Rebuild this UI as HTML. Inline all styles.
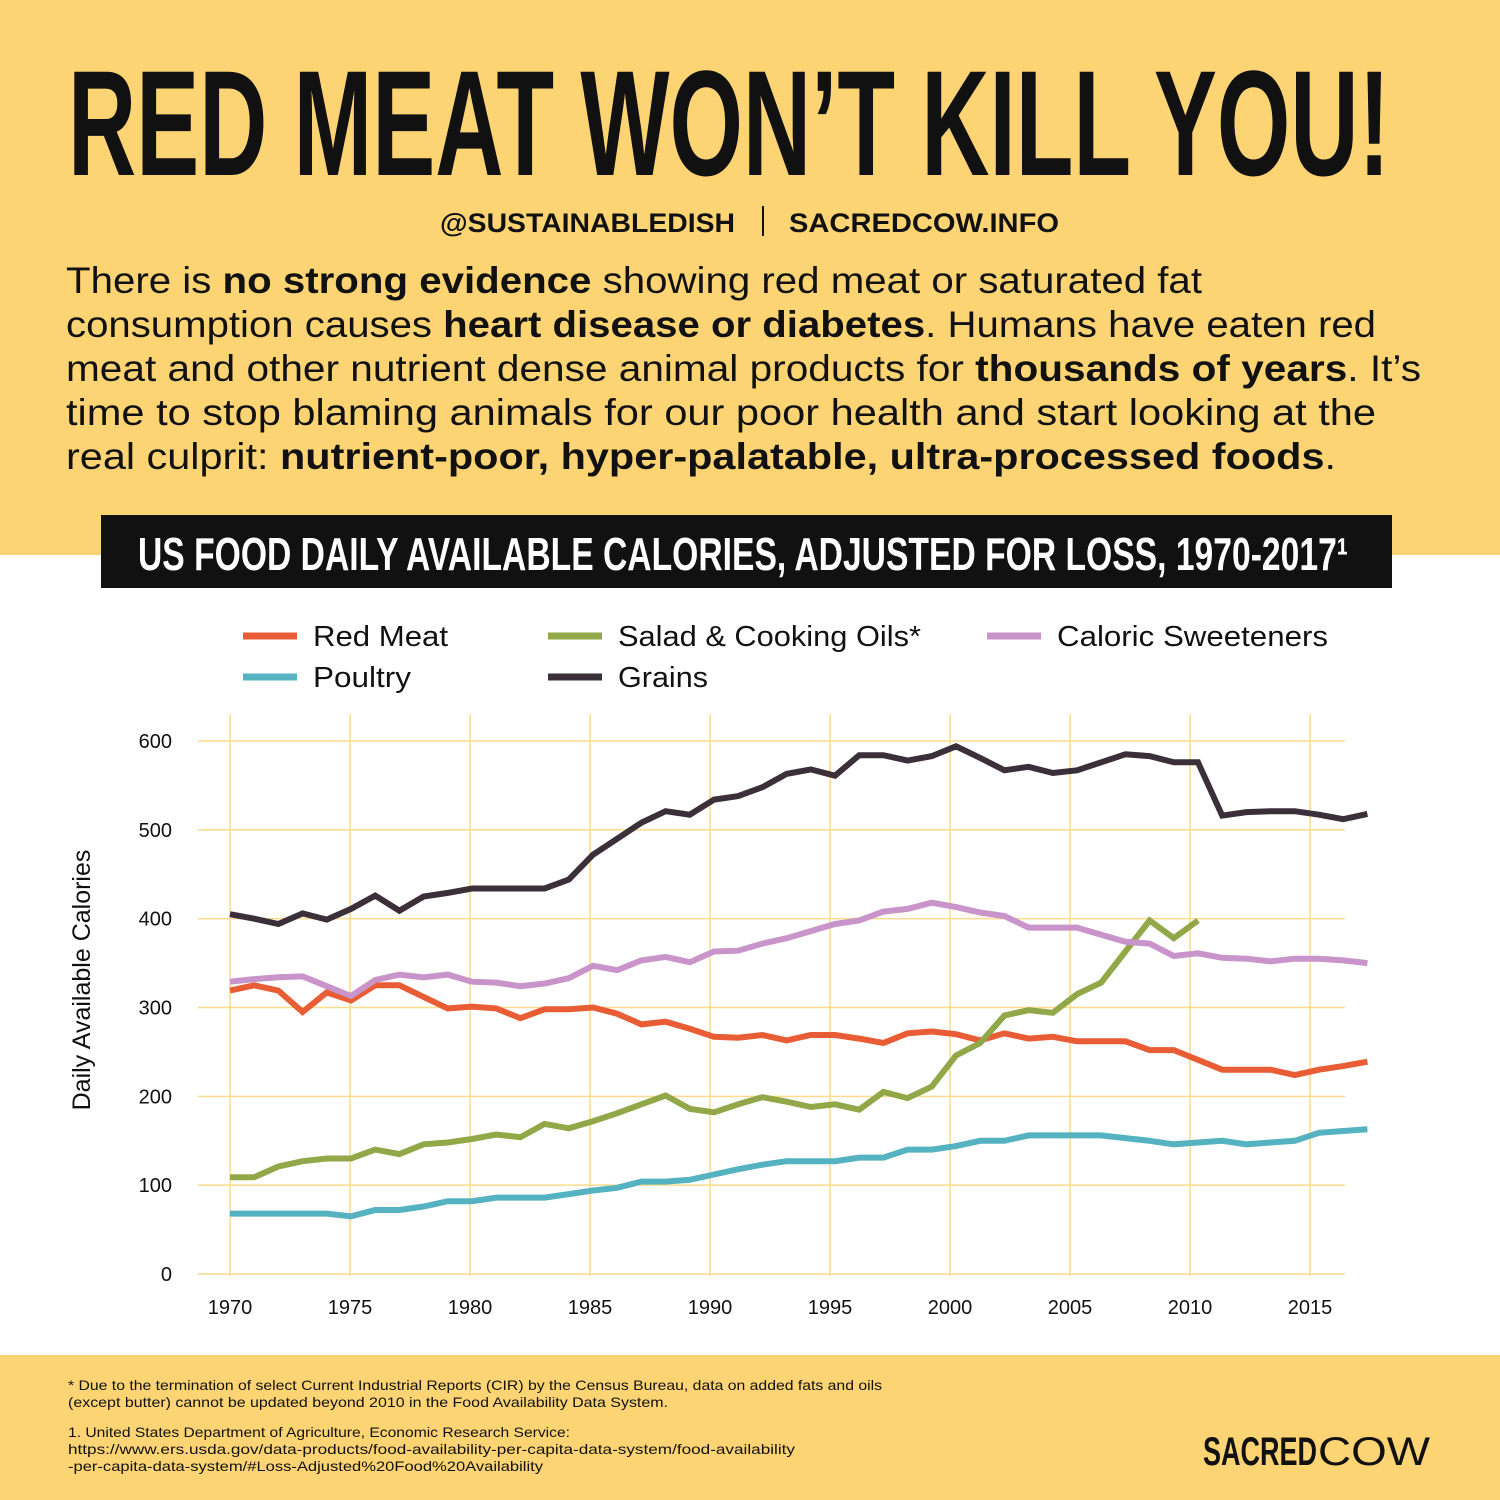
<!DOCTYPE html>
<html><head><meta charset="utf-8"><style>
html,body{margin:0;padding:0;background:#fdd474;}
svg{display:block;}
.t{font-family:"Liberation Sans",sans-serif;}
</style></head><body>
<svg id="chart" width="1500" height="1500" viewBox="0 0 1500 1500" xmlns="http://www.w3.org/2000/svg" class="t">
<rect x="0" y="0" width="1500" height="1500" fill="#fdd474"/>
<rect x="0" y="555" width="1500" height="800" fill="#ffffff"/>
<text x="68" y="175" font-family="Liberation Sans Narrow, Liberation Sans, sans-serif" font-weight="bold" font-size="150" textLength="1322" lengthAdjust="spacingAndGlyphs" fill="#111">RED MEAT WON’T KILL YOU!</text>
<text x="440" y="232" font-weight="bold" font-size="27" textLength="295" lengthAdjust="spacingAndGlyphs" fill="#111">@SUSTAINABLEDISH</text>
<rect x="762" y="206" width="2" height="30" fill="#111"/>
<text x="789" y="232" font-weight="bold" font-size="27" textLength="270" lengthAdjust="spacingAndGlyphs" fill="#111">SACREDCOW.INFO</text>
<g font-size="37" fill="#111">
<text x="66" y="293" textLength="1136" lengthAdjust="spacingAndGlyphs">There is <tspan font-weight="bold">no strong evidence</tspan> showing red meat or saturated fat</text>
<text x="66" y="337" textLength="1310" lengthAdjust="spacingAndGlyphs">consumption causes <tspan font-weight="bold">heart disease or diabetes</tspan>. Humans have eaten red</text>
<text x="66" y="381" textLength="1355" lengthAdjust="spacingAndGlyphs">meat and other nutrient dense animal products for <tspan font-weight="bold">thousands of years</tspan>. It’s</text>
<text x="66" y="425" textLength="1310" lengthAdjust="spacingAndGlyphs">time to stop blaming animals for our poor health and start looking at the</text>
<text x="66" y="469" textLength="1270" lengthAdjust="spacingAndGlyphs">real culprit: <tspan font-weight="bold">nutrient-poor, hyper-palatable, ultra-processed foods</tspan>.</text>
</g>
<rect x="101" y="515" width="1291" height="73" fill="#111"/>
<text x="138" y="570" font-family="Liberation Sans Narrow, Liberation Sans, sans-serif" font-weight="bold" font-size="46" textLength="1210" lengthAdjust="spacingAndGlyphs" fill="#fff">US FOOD DAILY AVAILABLE CALORIES, ADJUSTED FOR LOSS, 1970-2017¹</text>
<g id="legend" font-size="29" fill="#111"></g>
<g id="grid"></g>
<g id="axes" font-size="20" fill="#111"></g>
<g id="series"></g>
<text transform="translate(90,980) rotate(-90)" text-anchor="middle" font-size="25" fill="#111">Daily Available Calories</text>
<g font-size="14" fill="#111">
<text x="68" y="1390" textLength="814" lengthAdjust="spacingAndGlyphs">* Due to the termination of select Current Industrial Reports (CIR) by the Census Bureau, data on added fats and oils</text>
<text x="68" y="1407" textLength="600" lengthAdjust="spacingAndGlyphs">(except butter) cannot be updated beyond 2010 in the Food Availability Data System.</text>
<text x="68" y="1437" textLength="502" lengthAdjust="spacingAndGlyphs">1. United States Department of Agriculture, Economic Research Service:</text>
<text x="68" y="1454" textLength="727" lengthAdjust="spacingAndGlyphs">https://www.ers.usda.gov/data-products/food-availability-per-capita-data-system/food-availability</text>
<text x="68" y="1471" textLength="475" lengthAdjust="spacingAndGlyphs">-per-capita-data-system/#Loss-Adjusted%20Food%20Availability</text>
</g>
<text x="1203" y="1465" font-family="Liberation Sans Narrow, Liberation Sans, sans-serif" font-weight="bold" font-size="40" textLength="114" lengthAdjust="spacingAndGlyphs" fill="#111">SACRED</text>
<text x="1318" y="1465" font-size="40" textLength="112" lengthAdjust="spacingAndGlyphs" fill="#111">COW</text>
</svg>
<script>
const years = [];
for (let y = 1970; y <= 2017; y++) years.push(y);
const redMeat = [319,325,319,295,317,308,325,325,312,299,301,299,288,298,298,300,293,281,284,276,267,266,269,263,269,269,265,260,271,273,270,263,271,265,267,262,262,262,252,252,241,230,230,230,224,230,234,239];
const poultry = [68,68,68,68,68,65,72,72,76,82,82,86,86,86,90,94,97,104,104,106,112,118,123,127,127,127,131,131,140,140,144,150,150,156,156,156,156,153,150,146,148,150,146,148,150,159,161,163];
const oils = [109,109,121,127,130,130,140,135,146,148,152,157,154,169,164,172,181,191,201,186,182,191,199,194,188,191,185,205,198,211,246,260,291,297,294,315,328,363,398,378,398];
const grains = [405,400,394,406,399,411,426,409,425,429,434,434,434,434,444,472,490,508,521,517,534,538,548,563,568,561,584,584,578,583,594,581,567,571,564,567,576,585,583,576,576,516,520,521,521,517,512,518];
const sweeteners = [329,332,334,335,324,313,331,337,334,337,329,328,324,327,333,347,342,353,357,351,363,364,372,378,386,394,398,408,411,418,413,407,403,390,390,390,382,374,372,358,361,356,355,352,355,355,353,350];
const yTicks = [0,100,200,300,400,500,600];
const xTicks = [1970,1975,1980,1985,1990,1995,2000,2005,2010,2015];
const seriesNames = ["Red Meat","Poultry","Salad & Cooking Oils*","Grains","Caloric Sweeteners"];
const seriesKeys = ["red-meat","poultry","oils","grains","sweeteners"];
const seriesData = [redMeat, poultry, oils, grains, sweeteners];
const colors = ["#e85d35","#55b2c0","#92a748","#3b2f3a","#c894c9"];
const labelWidths = [135,98,303,90,271];

const NS = "http://www.w3.org/2000/svg";
function yPx(v){ return 1274 - v * 0.8883; }
function xTickPx(yr){ return 230 + (yr - 1970) * 24; }
function xDataPx(yr){ return 230 + (yr - 1970) * 24.2; }
function mk(tag, attrs, parent){ const e=document.createElementNS(NS,tag); for(const k in attrs) e.setAttribute(k,attrs[k]); parent.appendChild(e); return e; }

const grid = document.getElementById('grid');
yTicks.forEach(v=>{
  const l = mk('line',{x1:198,x2:1345,y1:yPx(v),y2:yPx(v),stroke:'#fcdc8c','stroke-width':1.5},grid);
  
  
});
xTicks.forEach(t=>{
  const l = mk('line',{x1:xTickPx(t),x2:xTickPx(t),y1:714,y2:1276,stroke:'#fcdc8c','stroke-width':1.5},grid);
  
  
});
const axes = document.getElementById('axes');
yTicks.forEach(v=>{
  const t = mk('text',{x:172,y:yPx(v)+7,'text-anchor':'end'},axes);
  t.textContent = v;
  
  
});
xTicks.forEach(v=>{
  const t = mk('text',{x:xTickPx(v),y:1314,'text-anchor':'middle'},axes);
  t.textContent = v;
  
  
});
const sg = document.getElementById('series');
seriesData.forEach((arr,i)=>{
  const pts = arr.map((v,j)=>xDataPx(years[j]).toFixed(1)+','+yPx(v).toFixed(1)).join(' ');
  const p = mk('polyline',{points:pts,fill:'none',stroke:colors[i],'stroke-width':6,'stroke-linejoin':'miter'},sg);
  
  
});
const legPos = [[243,636],[243,677],[548,636],[548,677],[987,636]];
const lg = document.getElementById('legend');
seriesNames.forEach((n,i)=>{
  const [x,y]=legPos[i];
  const g = mk('g',{},lg);
  
  
  mk('line',{x1:x,x2:x+54,y1:y,y2:y,stroke:colors[i],'stroke-width':7},g);
  const t = mk('text',{x:x+70,y:y+10,textLength:labelWidths[i],lengthAdjust:'spacingAndGlyphs'},g);
  t.textContent = n;
});
</script>
</body></html>
